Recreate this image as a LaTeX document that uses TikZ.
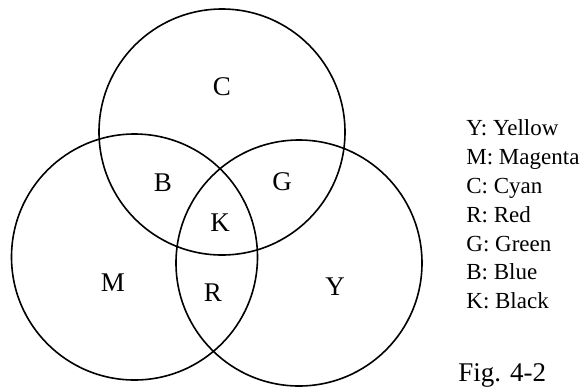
\documentclass[tikz,border=0pt]{standalone}
\usepackage{fontspec}
\setmainfont{Liberation Serif}
\usetikzlibrary{positioning}

\begin{document}
\begin{tikzpicture}[
  x=0.5pt, y=-0.5pt,
  ring/.style={circle, draw, line width=0.8pt, minimum size=123pt, inner sep=0pt},
  tag/.style={font=\fontsize{13.5}{16}\selectfont, inner sep=0pt},
  key/.style={font=\fontsize{11.5}{14.4}\selectfont, align=left, anchor=north west, inner sep=0pt}
]
\useasboundingbox (0,0) rectangle (585,388);

\node[ring] (cyan) at (222,132) {};
\node[ring] (magenta) at (134.5,257) {};
\node[ring] (yellow) at (299,263) {};

\node[tag] (c) at (222,87) {C};
\node[tag] (b) at (163,183) {B};
\node[tag] (g) at (282,182) {G};
\node[tag] (k) at (220,223) {K};
\node[tag] (m) at (113,283) {M};
\node[tag] (r) at (213,293) {R};
\node[tag] (y) at (335,287) {Y};

\node[key] (legend) at (466,119.5) {Y: Yellow\\ M: Magenta\\ C: Cyan\\ R: Red\\ G: Green\\ B: Blue\\ K: Black};
\node[tag, anchor=base west] (fig) at (458,381) {Fig. 4-2};
\end{tikzpicture}
\end{document}
